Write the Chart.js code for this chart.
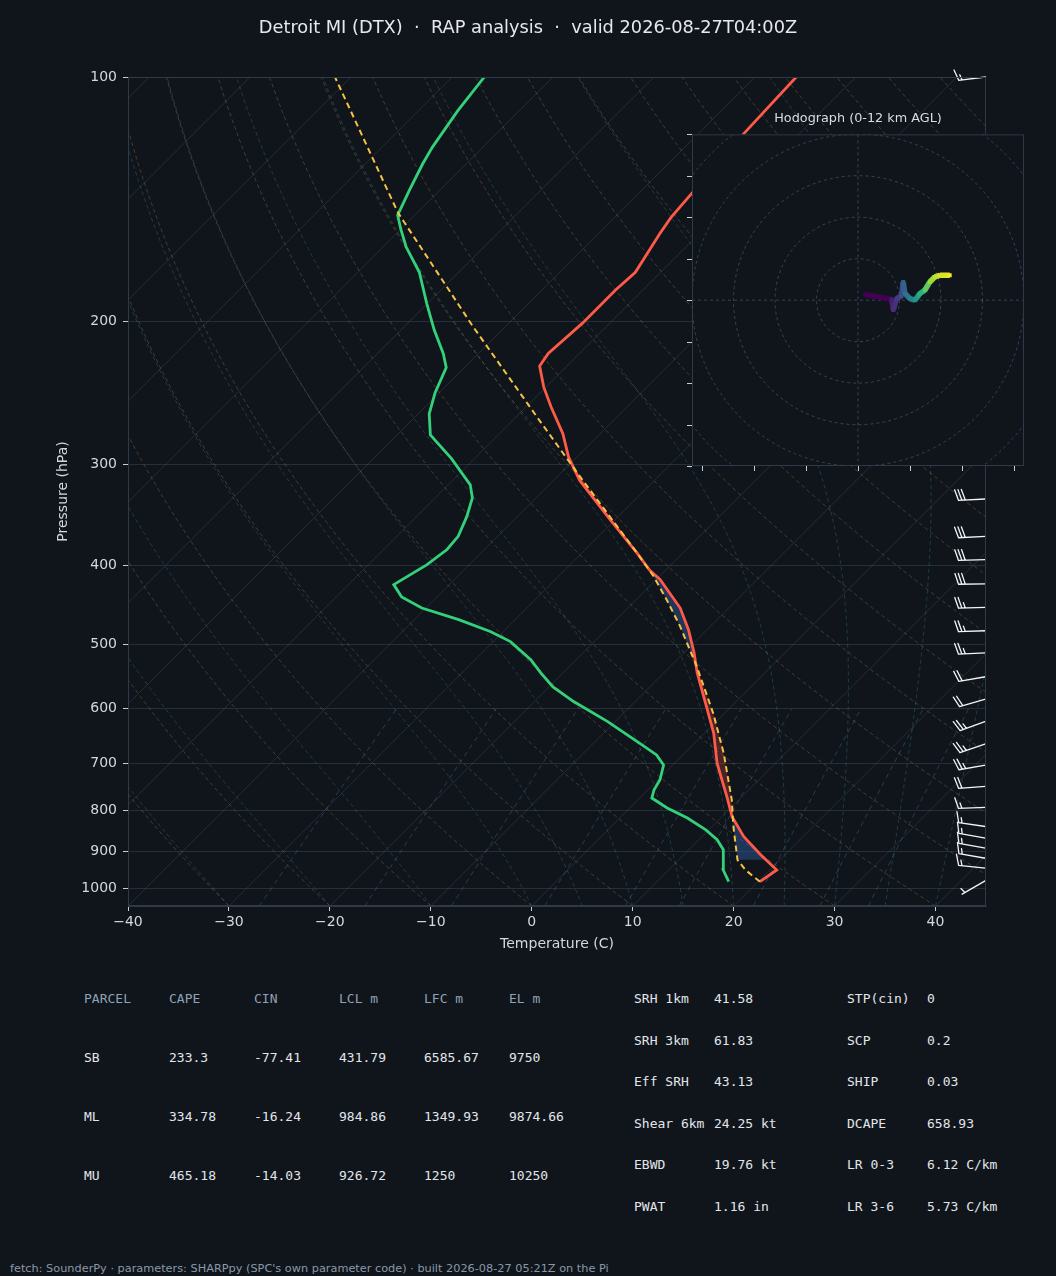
<!DOCTYPE html>
<html>
<head>
<meta charset="utf-8">
<script src="https://cdn.jsdelivr.net/npm/chart.js@4.4.1/dist/chart.umd.min.js"></script>
<style>
  body { margin: 0; background: #10151c; width: 1056px; height: 1276px; overflow: hidden; position: relative; font-family: "DejaVu Sans", sans-serif; }
  #title { position: absolute; left: 0; top: 16px; width: 1056px; text-align: center; color: #e6e8eb; font-size: 17.8px; line-height: 21px; white-space: pre; z-index: 2; }
  #skewt { position: absolute; left: 0; top: 0; z-index: 1; }
  #hodo { position: absolute; left: 680px; top: 100px; z-index: 3; }
  .cell { position: absolute; font-family: "DejaVu Sans Mono", monospace; font-size: 13px; line-height: 16px; white-space: pre; color: #e2e6ea; }
  .hdr { color: #8fa1b4; }
  #foot { position: absolute; left: 10px; top: 1262px; font-size: 11.3px; line-height: 14px; color: #8a98a8; white-space: pre; }
</style>
</head>
<body>
<div id="title">Detroit MI (DTX)  ·  RAP analysis  ·  valid 2026-08-27T04:00Z</div>
<canvas id="skewt" width="1056" height="960"></canvas>
<canvas id="hodo" width="356" height="372"></canvas>
<div id="tables"></div>
<div id="foot">fetch: SounderPy · parameters: SHARPpy (SPC's own parameter code) · built 2026-08-27 05:21Z on the Pi</div>

<script>
// ---- sounding values ----
const ENV_P = [980, 948, 908, 862, 815, 770, 727, 700, 643, 597, 542, 512, 480, 451, 416, 405, 386, 351, 314, 294,
               275, 255, 241, 227, 219, 201, 183, 174, 156, 149, 140, 117, 100];
const ENV_T = [20.2, 20.7, 17.6, 14.1, 11.0, 8.5, 5.9, 4.2, 0.9, -2.4, -6.7, -9.0, -11.8, -14.8, -19.6, -21.6, -24.5, -30.5, -37.4, -40.8,
               -43.7, -47.5, -50.2, -52.7, -53.1, -52.7, -52.7, -52.5, -53.9, -54.4, -54.7, -55.5, -55.9];

const DEW_P = [980, 948, 921, 895, 870, 846, 818, 795, 773, 755, 734, 704, 684, 662, 622, 588, 564, 542, 522, 496,
               482, 466, 451, 437, 422, 399, 382, 368, 348, 330, 318, 295, 276, 260, 245, 228, 219, 205, 190, 174,
               162, 154, 148, 138, 128, 122, 110, 100];
const DEW_T = [17.1, 15.4, 14.4, 13.4, 11.8, 9.7, 6.7, 3.7, 1.2, 0.6, 0.2, -0.9, -2.6, -5.4, -10.8, -16.1, -19.6, -22.2, -24.5, -28.3,
               -31.3, -35.6, -40.4, -43.5, -45.5, -44.2, -43.7, -43.9, -45.0, -46.3, -47.8, -52.3, -56.7, -58.9, -60.4, -61.8, -63.5, -66.7, -70.1, -73.9,
               -77.7, -80.0, -81.7, -83.0, -84.3, -85.0, -86.1, -86.8];

const PCL_P = [980, 948, 921, 838, 777, 681, 608, 532, 475, 441, 412, 386, 314, 265, 203, 147, 100];
const PCL_T = [20.2, 17.6, 15.8, 12.1, 9.3, 3.9, -1.1, -7.4, -13.0, -16.9, -20.6, -24.5, -37.1, -47.3, -63.2, -81.9, -101.6];
const LCL_P = 921;
const EL_P = 298;

// wind barbs (kt, direction wind blows from)
const BARB_P   = [100, 331, 368, 393, 421, 450, 481, 512, 548, 584, 622, 663, 704, 748, 794, 838, 866, 891, 917, 943, 977];
const BARB_DIR = [263, 267, 267, 268, 269, 268, 268, 267, 260, 254, 250, 251, 260, 266, 268, 278, 280, 280, 280, 276, 240];
const BARB_SPD = [15, 30, 30, 30, 30, 25, 25, 25, 20, 20, 25, 25, 25, 20, 15, 15, 15, 15, 15, 15, 5];

// hodograph trace (kt) and height (km AGL)
const HODO_U = [1.7, 8.1, 8.5, 9.3, 10.5, 10.9, 11.3, 12.5, 13.7, 14.5, 14.9, 16.1, 17.3, 18.5, 19.7, 22.1];
const HODO_V = [1.4, 0.2, -2.4, 0.4, 1.0, 4.4, 1.6, 0.4, 0.0, 1.0, 1.6, 2.4, 4.4, 5.6, 6.0, 6.0];
const HODO_H = [0, 1.0, 1.6, 2.2, 2.8, 3.6, 4.4, 5.4, 6.2, 7.0, 7.6, 9.0, 10.2, 10.9, 11.4, 12];
const HODO_RINGS = [10, 20, 30, 40, 50, 60];
const HODO_XTICKS = [-37.5, -25, -12.5, 0, 12.5, 25, 37.5];
const HODO_YTICKS = [-40, -30, -20, -10, 0, 10, 20, 30, 40];

// axis ticks
const T_TICKS = [-40, -30, -20, -10, 0, 10, 20, 30, 40];
const P_TICKS = [100, 200, 300, 400, 500, 600, 700, 800, 900, 1000];

// background thermodynamic lines
const ISO_T = [];
for (let t = -130; t <= 40; t += 10) ISO_T.push(t);
const DRY_T0 = [];
for (let t = -40; t <= 240; t += 10) DRY_T0.push(t);
const MOIST_T0 = [-40, -30, -20, -10, 0, 5, 10, 15, 20, 25, 30, 35, 40, 45];
const MIX_W = [0.0004, 0.001, 0.002, 0.004, 0.007, 0.01, 0.016, 0.024, 0.032];

// tables
const PARCEL_COLS = ['PARCEL', 'CAPE', 'CIN', 'LCL m', 'LFC m', 'EL m'];
const PARCEL_ROWS = [
  ['SB', '233.3', '-77.41', '431.79', '6585.67', '9750'],
  ['ML', '334.78', '-16.24', '984.86', '1349.93', '9874.66'],
  ['MU', '465.18', '-14.03', '926.72', '1250', '10250']
];
const IDX_A = [['SRH 1km', '41.58'], ['SRH 3km', '61.83'], ['Eff SRH', '43.13'], ['Shear 6km', '24.25 kt'], ['EBWD', '19.76 kt'], ['PWAT', '1.16 in']];
const IDX_B = [['STP(cin)', '0'], ['SCP', '0.2'], ['SHIP', '0.03'], ['DCAPE', '658.93'], ['LR 0-3', '6.12 C/km'], ['LR 3-6', '5.73 C/km']];

// ---- helpers ----
const P_BOT = 1050, P_TOP = 100;
const SKEW = 80.4;   // deg C per decade of pressure, gives 45 deg isotherms
const BG = '#10151c';
const skewX = (t, p) => t + SKEW * Math.log10(P_BOT / p);

function interpAt(P, T, p) {
  for (let i = 0; i < P.length - 1; i++) {
    if (p <= P[i] && p >= P[i + 1]) {
      const f = Math.log(P[i] / p) / Math.log(P[i] / P[i + 1]);
      return T[i] + f * (T[i + 1] - T[i]);
    }
  }
  return null;
}

function dTdp(p, T) {
  const Rd = 287.04749, Cp = 1005.7, Lv = 2.501e6, eps = 0.62197;
  const es = 6.112 * Math.exp(17.67 * (T - 273.15) / (T - 29.65));
  const rs = eps * es / (p - es);
  return (Rd * T + Lv * rs) / (Cp + (Lv * Lv * rs * eps) / (Rd * T * T)) / p;
}

function moistLine(t0) {
  const pts = [];
  let T = t0 + 273.15, p = P_BOT;
  pts.push({x: skewX(T - 273.15, p), y: p});
  while (p > P_TOP) {
    const h = Math.max(-5, P_TOP - p);
    const k1 = dTdp(p, T), k2 = dTdp(p + h / 2, T + h / 2 * k1);
    const k3 = dTdp(p + h / 2, T + h / 2 * k2), k4 = dTdp(p + h, T + h * k3);
    T += h / 6 * (k1 + 2 * k2 + 2 * k3 + k4);
    p += h;
    pts.push({x: skewX(T - 273.15, p), y: p});
  }
  return pts;
}

function dryLine(t0) {
  const pts = [];
  for (let k = 0; k <= 40; k++) {
    const p = P_BOT * Math.pow(P_TOP / P_BOT, k / 40);
    const T = (t0 + 273.15) * Math.pow(p / P_BOT, 0.2857) - 273.15;
    pts.push({x: skewX(T, p), y: p});
  }
  return pts;
}

function mixLine(w) {
  const pts = [];
  for (let k = 0; k <= 10; k++) {
    const p = P_BOT + (600 - P_BOT) * k / 10;
    const e = p * w / (0.62197 + w);
    const l = Math.log(e / 6.112);
    const td = 243.5 * l / (17.67 - l);
    pts.push({x: skewX(td, p), y: p});
  }
  return pts;
}

function strokePts(ctx, xs, ys, pts) {
  ctx.beginPath();
  pts.forEach((q, i) => {
    const px = xs.getPixelForValue(q.x), py = ys.getPixelForValue(q.y);
    if (i) ctx.lineTo(px, py); else ctx.moveTo(px, py);
  });
  ctx.stroke();
}

const profile = (P, T) => P.map((p, i) => ({x: skewX(T[i], p), y: p}));

const VIRIDIS = ['#440154', '#482878', '#3e4989', '#31688e', '#26828e', '#1f9e89', '#35b779', '#6ece58', '#b5de2b', '#fde725'];
function viridis(t) {
  t = Math.max(0, Math.min(1, t));
  const n = VIRIDIS.length - 1;
  const i = Math.min(n - 1, Math.floor(t * n));
  const f = t * n - i;
  const a = VIRIDIS[i], b = VIRIDIS[i + 1];
  const c = j => Math.round(parseInt(a.substr(j, 2), 16) * (1 - f) + parseInt(b.substr(j, 2), 16) * f);
  return `rgb(${c(1)},${c(3)},${c(5)})`;
}

// ---- plugins ----
const thermoLines = {
  id: 'thermoLines',
  beforeDatasetsDraw(chart) {
    const {ctx, chartArea: a, scales: {x, y}} = chart;
    ctx.save();
    ctx.beginPath();
    ctx.rect(a.left, a.top, a.width, a.height);
    ctx.clip();
    ctx.lineWidth = 1;

    ctx.strokeStyle = 'rgba(150,170,200,0.16)';
    ctx.setLineDash([]);
    ISO_T.forEach(t => strokePts(ctx, x, y, [{x: skewX(t, P_BOT), y: P_BOT}, {x: skewX(t, P_TOP), y: P_TOP}]));

    ctx.setLineDash([4, 3]);
    ctx.strokeStyle = 'rgba(200,150,90,0.30)';
    DRY_T0.forEach(t => strokePts(ctx, x, y, dryLine(t)));

    ctx.strokeStyle = 'rgba(70,160,175,0.28)';
    MOIST_T0.forEach(t => strokePts(ctx, x, y, moistLine(t)));

    ctx.strokeStyle = 'rgba(100,140,190,0.32)';
    ctx.setLineDash([5, 4]);
    MIX_W.forEach(w => strokePts(ctx, x, y, mixLine(w)));

    // buoyancy shading between LCL and EL
    const n = 300, s = [];
    for (let k = 0; k <= n; k++) {
      const p = LCL_P * Math.pow(EL_P / LCL_P, k / n);
      const te = interpAt(ENV_P, ENV_T, p), tp = interpAt(PCL_P, PCL_T, p);
      s.push({p, te, tp, d: tp - te});
    }
    const groups = [];
    let cur = [s[0]];
    for (let k = 1; k < s.length; k++) {
      if ((s[k].d >= 0) !== (s[k - 1].d >= 0)) {
        const f = s[k - 1].d / (s[k - 1].d - s[k].d);
        const pc = Math.exp(Math.log(s[k - 1].p) + f * (Math.log(s[k].p) - Math.log(s[k - 1].p)));
        const tc = s[k - 1].te + f * (s[k].te - s[k - 1].te);
        const cross = {p: pc, te: tc, tp: tc, d: 0};
        cur.push(cross);
        groups.push({pos: s[k - 1].d >= 0, pts: cur});
        cur = [cross];
      }
      cur.push(s[k]);
    }
    groups.push({pos: s[s.length - 1].d >= 0, pts: cur});
    ctx.setLineDash([]);
    groups.forEach(g => {
      ctx.fillStyle = g.pos ? 'rgba(220,70,60,0.28)' : 'rgba(45,85,150,0.5)';
      ctx.beginPath();
      g.pts.forEach((q, i) => {
        const px = x.getPixelForValue(skewX(q.te, q.p)), py = y.getPixelForValue(q.p);
        if (i) ctx.lineTo(px, py); else ctx.moveTo(px, py);
      });
      for (let i = g.pts.length - 1; i >= 0; i--) {
        const q = g.pts[i];
        ctx.lineTo(x.getPixelForValue(skewX(q.tp, q.p)), y.getPixelForValue(q.p));
      }
      ctx.closePath();
      ctx.fill();
    });
    ctx.restore();
  }
};

const windBarbs = {
  id: 'windBarbs',
  afterDatasetsDraw(chart) {
    const {ctx, chartArea: a, scales: {y}} = chart;
    const L = 27, sp = 0.125 * L, H = 0.4 * L, W = 0.125 * L;
    ctx.save();
    ctx.strokeStyle = '#f2f4f6';
    ctx.lineWidth = 1.3;
    ctx.lineCap = 'round';
    BARB_P.forEach((p, i) => {
      const ax = a.right - 0.5, ay = y.getPixelForValue(p);
      const d = BARB_DIR[i] * Math.PI / 180;
      const sx = Math.sin(d), sy = -Math.cos(d);
      const px = -sy, py = sx;
      const tx = ax + L * sx, ty = ay + L * sy;
      ctx.beginPath();
      ctx.moveTo(ax, ay);
      ctx.lineTo(tx, ty);
      const spd = Math.round(BARB_SPD[i] / 5) * 5;
      const full = Math.floor(spd / 10), half = spd % 10 >= 5;
      let pos = (full === 0 && half) ? sp : 0;
      for (let k = 0; k < full; k++) {
        const bx = tx - pos * sx, by = ty - pos * sy;
        ctx.moveTo(bx, by);
        ctx.lineTo(bx + H * px + W * sx, by + H * py + W * sy);
        pos += sp;
      }
      if (half) {
        const bx = tx - pos * sx, by = ty - pos * sy;
        ctx.moveTo(bx, by);
        ctx.lineTo(bx + H / 2 * px + W / 2 * sx, by + H / 2 * py + W / 2 * sy);
      }
      ctx.stroke();
    });
    ctx.restore();
  }
};

const frame = {
  id: 'frame',
  afterDraw(chart) {
    const {ctx, chartArea: a} = chart;
    ctx.save();
    ctx.strokeStyle = '#2f3947';
    ctx.lineWidth = 1;
    ctx.strokeRect(a.left + 0.5, a.top + 0.5, a.width - 1, a.height - 1);
    ctx.restore();
  }
};

const hodoFrame = {
  id: 'hodoFrame',
  beforeDraw(chart) {
    const {ctx, chartArea: a} = chart;
    ctx.save();
    ctx.fillStyle = BG;
    ctx.fillRect(a.left, a.top, a.width, a.height);
    ctx.restore();
  },
  beforeDatasetsDraw(chart) {
    const {ctx, chartArea: a, scales: {x, y}} = chart;
    const cx = x.getPixelForValue(0), cy = y.getPixelForValue(0);
    ctx.save();
    ctx.beginPath();
    ctx.rect(a.left, a.top, a.width, a.height);
    ctx.clip();
    ctx.strokeStyle = 'rgba(130,150,175,0.35)';
    ctx.lineWidth = 1;
    ctx.setLineDash([3, 3]);
    HODO_RINGS.forEach(r => {
      ctx.beginPath();
      ctx.arc(cx, cy, x.getPixelForValue(r) - cx, 0, 2 * Math.PI);
      ctx.stroke();
    });
    ctx.beginPath();
    ctx.moveTo(a.left, cy); ctx.lineTo(a.right, cy);
    ctx.moveTo(cx, a.top); ctx.lineTo(cx, a.bottom);
    ctx.stroke();
    ctx.restore();
  },
  afterDraw(chart) {
    const {ctx, chartArea: a, scales: {x, y}} = chart;
    ctx.save();
    ctx.strokeStyle = '#2f3947';
    ctx.lineWidth = 1;
    ctx.strokeRect(a.left + 0.5, a.top + 0.5, a.width - 1, a.height - 1);
    ctx.strokeStyle = '#c9ced5';
    ctx.beginPath();
    HODO_YTICKS.forEach(v => {
      const py = Math.round(y.getPixelForValue(v)) + 0.5;
      ctx.moveTo(a.left - 5, py); ctx.lineTo(a.left, py);
    });
    HODO_XTICKS.forEach(v => {
      const px = Math.round(x.getPixelForValue(v)) + 0.5;
      ctx.moveTo(px, a.bottom); ctx.lineTo(px, a.bottom + 5);
    });
    ctx.stroke();
    ctx.restore();
  }
};

// ---- charts ----
Chart.defaults.font.family = '"DejaVu Sans", sans-serif';
const tickFont = {family: '"DejaVu Sans", sans-serif', size: 14};

new Chart(document.getElementById('skewt'), {
  type: 'scatter',
  data: {
    datasets: [
      { label: 'Parcel', data: profile(PCL_P, PCL_T), showLine: true, borderColor: '#f5c242', borderWidth: 2, borderDash: [6, 4], pointRadius: 0 },
      { label: 'Temperature', data: profile(ENV_P, ENV_T), showLine: true, borderColor: '#ff5a48', borderWidth: 2.8, pointRadius: 0 },
      { label: 'Dewpoint', data: profile(DEW_P, DEW_T), showLine: true, borderColor: '#33d17a', borderWidth: 2.8, pointRadius: 0 }
    ]
  },
  options: {
    responsive: false,
    animation: false,
    devicePixelRatio: 1,
    layout: { padding: { left: 0, top: 77, right: 70, bottom: 4 } },
    plugins: { legend: { display: false }, tooltip: { enabled: false } },
    scales: {
      x: {
        type: 'linear', min: -40, max: 45, bounds: 'data',
        afterBuildTicks: ax => { ax.ticks = T_TICKS.map(v => ({value: v})); },
        afterFit: s => { s.height = 50; },
        ticks: { color: '#d3d8de', font: tickFont, padding: 3, maxRotation: 0, autoSkip: false,
                 callback: v => v < 0 ? '\u2212' + Math.abs(v) : String(v) },
        grid: { drawOnChartArea: false, tickLength: 5, tickColor: '#c9ced5', color: '#2f3947' },
        border: { color: '#2f3947' },
        title: { display: true, text: 'Temperature (C)', color: '#d3d8de', font: tickFont, padding: { top: 0, bottom: 3 } }
      },
      y: {
        type: 'logarithmic', min: P_TOP, max: P_BOT, reverse: true, bounds: 'data',
        afterBuildTicks: ax => { ax.ticks = P_TICKS.map(v => ({value: v})); },
        afterFit: s => { s.width = 128; },
        ticks: { color: '#d3d8de', font: tickFont, padding: 6, autoSkip: false, callback: v => String(v) },
        grid: { color: 'rgba(150,170,200,0.17)', tickLength: 5, tickColor: '#c9ced5' },
        border: { color: '#2f3947' },
        title: { display: true, text: 'Pressure (hPa)', color: '#d3d8de', font: tickFont, padding: { top: 55, bottom: 0 } }
      }
    }
  },
  plugins: [thermoLines, windBarbs, frame]
});

new Chart(document.getElementById('hodo'), {
  type: 'scatter',
  data: {
    datasets: [{
      data: HODO_U.map((u, i) => ({x: u, y: HODO_V[i]})),
      showLine: true,
      borderWidth: 5.5,
      borderJoinStyle: 'round',
      pointRadius: 2.8,
      pointStyle: 'rect',
      pointBorderWidth: 0,
      pointBackgroundColor: HODO_H.map(h => viridis(h / 12)),
      segment: { borderColor: c => viridis(HODO_H[c.p0DataIndex] / 12) }
    }]
  },
  options: {
    responsive: false,
    animation: false,
    devicePixelRatio: 1,
    layout: { padding: { left: 12, right: 12, top: 0, bottom: 6 } },
    plugins: {
      legend: { display: false },
      tooltip: { enabled: false },
      title: { display: true, text: 'Hodograph (0-12 km AGL)', color: '#d8dde3',
               font: { family: '"DejaVu Sans", sans-serif', size: 12.8, weight: 'normal' }, padding: { top: 11, bottom: 8 } }
    },
    scales: {
      x: { type: 'linear', min: -40, max: 40, display: false },
      y: { type: 'linear', min: -40, max: 40, display: false }
    }
  },
  plugins: [hodoFrame]
});

// ---- tables ----
const tables = document.getElementById('tables');
function cell(text, x, yc, cls) {
  const d = document.createElement('div');
  d.className = 'cell' + (cls ? ' ' + cls : '');
  d.textContent = text;
  d.style.left = x + 'px';
  d.style.top = (yc - 8) + 'px';
  tables.appendChild(d);
}
const PCOL_X = [84, 169, 254, 339, 424, 509];
const PROW_Y = [1058, 1117, 1176];
PARCEL_COLS.forEach((c, j) => cell(c, PCOL_X[j], 999, 'hdr'));
PARCEL_ROWS.forEach((r, i) => r.forEach((v, j) => cell(v, PCOL_X[j], PROW_Y[i])));
const IROW_Y = [999, 1041, 1082, 1124, 1165, 1207];
IDX_A.forEach((r, i) => { cell(r[0], 634, IROW_Y[i]); cell(r[1], 714, IROW_Y[i]); });
IDX_B.forEach((r, i) => { cell(r[0], 847, IROW_Y[i]); cell(r[1], 927, IROW_Y[i]); });
</script>
</body>
</html>
